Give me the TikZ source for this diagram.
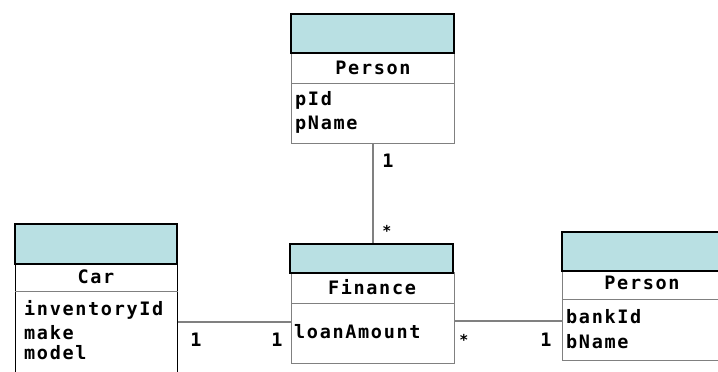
\documentclass[tikz,border=0pt]{standalone}
\usepackage{fontspec}
\newfontfamily\umlfont[LetterSpace=9]{DejaVu Sans Mono Bold}
\definecolor{hdrteal}{HTML}{B9E0E3}
\definecolor{bordergray}{HTML}{808080}
\tikzset{
  hdr/.style={draw=black, line width=1.6pt, fill=hdrteal, inner sep=0pt, anchor=north west},
  bodybox/.style={draw=bordergray, line width=1pt, fill=white, inner sep=0pt, anchor=north west},
  sep/.style={draw=bordergray, line width=1pt},
  txt/.style={font=\umlfont\fontsize{18.5}{20}\selectfont, inner sep=0pt, text=black},
  attr/.style={txt, anchor=west},
  conn/.style={draw=bordergray, line width=1.4pt},
  mult/.style={txt},
  star/.style={txt, font=\umlfont\fontsize{15}{16}\selectfont}
}
\begin{document}
\begin{tikzpicture}[x=1pt,y=-1pt]
\clip (0,0) rectangle (718,372);
\fill[white] (0,0) rectangle (718,372);
% Top Person
\node[bodybox, minimum width=163pt, minimum height=91pt] (pb) at (291,52) {};
\node[hdr, minimum width=163pt, minimum height=39pt] (ph) at (290,13) {};
\draw[sep] (pb.west |- 0,83) -- (pb.east |- 0,83);
\node[txt] (pn) at (373,68) {Person};
\node[attr] (pa1) at (295,100) {pId};
\node[attr] (pa2) at (295,125) {pName};
% Car
\node[bodybox, minimum width=162pt, minimum height=120pt, draw=black] (cb) at (15,263) {};
\node[hdr, minimum width=162pt, minimum height=40pt] (ch) at (14,223) {};
\draw[sep] (cb.west |- 0,291) -- (cb.east |- 0,291);
\node[txt] (cn) at (96,277) {Car};
\node[attr] (ca1) at (24,310) {inventoryId};
\node[attr] (ca2) at (24,333) {make};
\node[attr] (ca3) at (24,353) {model};
% Finance
\node[bodybox, minimum width=163pt, minimum height=91pt] (fb) at (291,272) {};
\node[hdr, minimum width=163pt, minimum height=29pt] (fh) at (289,243) {};
\draw[sep] (fb.west |- 0,303) -- (fb.east |- 0,303);
\node[txt] (fn) at (372,287) {Finance};
\node[attr] (fa1) at (294,332) {loanAmount};
% Right Person (bank)
\node[bodybox, minimum width=165pt, minimum height=90pt] (bb) at (562,270) {};
\node[hdr, minimum width=165pt, minimum height=39pt] (bh) at (561,231) {};
\draw[sep] (bb.west |- 0,299) -- (bb.east |- 0,299);
\node[txt] (bn) at (642,283) {Person};
\node[attr] (ba1) at (566,317) {bankId};
\node[attr] (ba2) at (566,342) {bName};
% Connectors
\coordinate (vx) at (373,0);
\coordinate (hy1) at (0,322);
\coordinate (hy2) at (0,321);
\draw[conn] (pb.south -| vx) -- (fh.north -| vx);
\draw[conn] (cb.east |- hy1) -- (fb.west |- hy1);
\draw[conn] (fb.east |- hy2) -- (bb.west |- hy2);
% Multiplicities
\node[mult] (m1) at (388,161) {1};
\node[star] (m2) at (387,231) {*};
\node[mult] (m3) at (196,340) {1};
\node[mult] (m4) at (277,340) {1};
\node[star] (m5) at (464,340) {*};
\node[mult] (m6) at (546,340) {1};
\end{tikzpicture}
\end{document}
